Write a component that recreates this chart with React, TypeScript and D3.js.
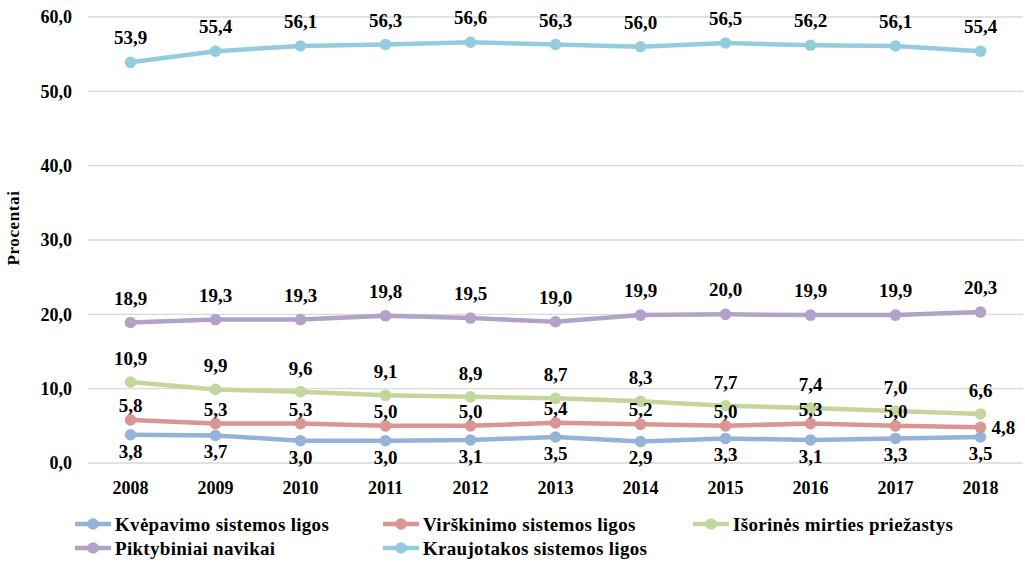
import * as d3 from 'd3'

const years = ['2008', '2009', '2010', '2011', '2012', '2013', '2014', '2015', '2016', '2017', '2018']
const yTicks = [0, 10, 20, 30, 40, 50, 60]

const kvepavimo = [3.8, 3.7, 3.0, 3.0, 3.1, 3.5, 2.9, 3.3, 3.1, 3.3, 3.5]
const virskinimo = [5.8, 5.3, 5.3, 5.0, 5.0, 5.4, 5.2, 5.0, 5.3, 5.0, 4.8]
const isorines = [10.9, 9.9, 9.6, 9.1, 8.9, 8.7, 8.3, 7.7, 7.4, 7.0, 6.6]
const piktybiniai = [18.9, 19.3, 19.3, 19.8, 19.5, 19.0, 19.9, 20.0, 19.9, 19.9, 20.3]
const kraujotakos = [53.9, 55.4, 56.1, 56.3, 56.6, 56.3, 56.0, 56.5, 56.2, 56.1, 55.4]

type Series = { name: string; values: number[]; color: string; labelDy: number }

// labelDy: baseline offset of the data label relative to the marker
const series: Series[] = [
  { name: 'Kvėpavimo sistemos ligos', values: kvepavimo, color: '#95b3d7', labelDy: 23 },
  { name: 'Virškinimo sistemos ligos', values: virskinimo, color: '#d99694', labelDy: -8 },
  { name: 'Išorinės mirties priežastys', values: isorines, color: '#c3d69b', labelDy: -17 },
  { name: 'Piktybiniai navikai', values: piktybiniai, color: '#b3a2c7', labelDy: -18 },
  { name: 'Kraujotakos sistemos ligos', values: kraujotakos, color: '#93cddd', labelDy: -18 },
]

const fmt = (v: number) => v.toFixed(1).replace('.', ',')
const textStyle = { fontFamily: "'Liberation Serif', 'Times New Roman', serif", fontWeight: 700 }

export default function App() {
  const width = 1025
  const height = 562
  const plot = { left: 88, right: 1023, top: 17, bottom: 463 }

  const x = d3.scaleBand<string>().domain(years).range([plot.left, plot.right])
  const cx = (y: string) => (x(y) ?? 0) + x.bandwidth() / 2
  const y = d3.scaleLinear().domain([0, 60]).range([plot.bottom, plot.top])

  const line = d3.line<number>()
    .x((_, i) => cx(years[i]))
    .y(d => y(d))

  // legend layout: two rows
  const legendCols = [75, 383, 693]
  const legendRows = [524, 548]

  return (
    <svg width={width} height={height} style={{ position: 'absolute', left: 0, top: 0, background: '#fff', ...textStyle }}>
      {yTicks.map(t => (
        <g key={t}>
          <line x1={plot.left} x2={plot.right} y1={y(t)} y2={y(t)} stroke="#d9d9d9" strokeWidth={1.3} />
          <text x={72} y={y(t)} dy="0.35em" textAnchor="end" fontSize={18} style={textStyle}>{fmt(t)}</text>
        </g>
      ))}
      {years.map(yr => (
        <text key={yr} x={cx(yr)} y={494} textAnchor="middle" fontSize={18} style={textStyle}>{yr}</text>
      ))}
      <text transform="translate(19,228) rotate(-90)" textAnchor="middle"
        fontSize={17} style={{ ...textStyle, letterSpacing: '0.6px' }}>Procentai</text>

      {series.map(s => (
        <g key={s.name}>
          <path d={line(s.values) ?? ''} fill="none" stroke={s.color} strokeWidth={4.5} strokeLinejoin="round" />
          {s.values.map((v, i) => (
            <circle key={i} cx={cx(years[i])} cy={y(v)} r={5.8} fill={s.color} />
          ))}
        </g>
      ))}

      {series.map(s => (
        <g key={s.name + '-labels'}>
          {s.values.map((v, i) => {
            const px = cx(years[i])
            const py = y(v)
            const isLastRed = s.name.startsWith('Virškinimo') && i === s.values.length - 1
            if (isLastRed) {
              return <text key={i} x={px + 11} y={py} dy="0.35em" textAnchor="start" fontSize={19} style={textStyle}>{fmt(v)}</text>
            }
            return (
              <text key={i} x={px} y={py + s.labelDy} textAnchor="middle" fontSize={19}
                style={textStyle}>{fmt(v)}</text>
            )
          })}
        </g>
      ))}

      {series.map((s, i) => {
        const lx = legendCols[i % 3]
        const ly = legendRows[Math.floor(i / 3)]
        return (
          <g key={s.name + '-legend'}>
            <line x1={lx} x2={lx + 36} y1={ly} y2={ly} stroke={s.color} strokeWidth={4.5} />
            <circle cx={lx + 18} cy={ly} r={5.8} fill={s.color} />
            <text x={lx + 40} y={ly} dy="0.35em" fontSize={19} style={{ ...textStyle, letterSpacing: '0.3px' }}>{s.name}</text>
          </g>
        )
      })}
    </svg>
  )
}
